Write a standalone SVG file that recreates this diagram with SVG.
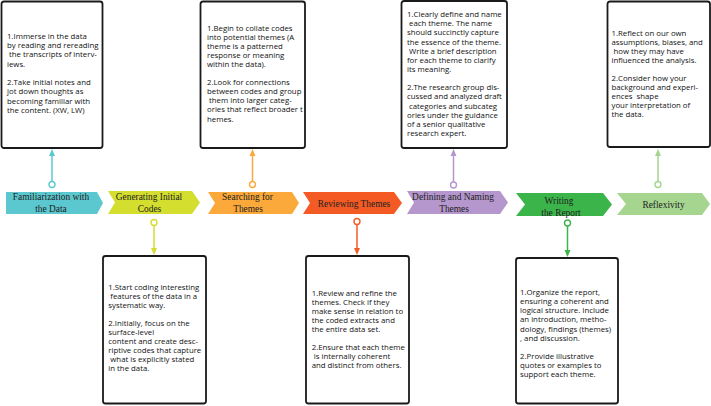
<svg xmlns="http://www.w3.org/2000/svg" width="711" height="406" viewBox="0 0 711 406">
<defs>
<style>
.box{fill:#fff;stroke:#1a1a1a;stroke-width:1.8}
.bt{font-family:"Open Sans","Noto Sans",sans-serif;font-size:7.8px;fill:#111}
.ct{font-family:"Liberation Serif","Times New Roman",serif;font-size:9.4px;fill:#222;text-anchor:middle}
.con{fill:none;stroke-width:1.5}
.dot{fill:#fff;stroke-width:1.4}
</style>
</defs>
<rect width="711" height="406" fill="#fff"/>

<g id="connectors">
  <g stroke="#5BC8CF" fill="#5BC8CF">
    <line class="con" x1="52" y1="181.5" x2="52" y2="155"/>
    <polygon points="52,149 49,156 55,156" stroke="none"/>
    <circle class="dot" cx="52" cy="184.5" r="3"/>
  </g>
  <g stroke="#FBA93B" fill="#FBA93B">
    <line class="con" x1="252.5" y1="181.5" x2="252.5" y2="155"/>
    <polygon points="252.5,149 249.5,156 255.5,156" stroke="none"/>
    <circle class="dot" cx="252.5" cy="184.5" r="3"/>
  </g>
  <g stroke="#B597CE" fill="#B597CE">
    <line class="con" x1="453.5" y1="182" x2="453.5" y2="155"/>
    <polygon points="453.5,149 450.5,156 456.5,156" stroke="none"/>
    <circle class="dot" cx="453.5" cy="185" r="3"/>
  </g>
  <g stroke="#A5D58F" fill="#A5D58F">
    <line class="con" x1="658" y1="181.5" x2="658" y2="155"/>
    <polygon points="658,149 655,156 661,156" stroke="none"/>
    <circle class="dot" cx="658" cy="184.5" r="3"/>
  </g>
  <g stroke="#D4DE2E" fill="#D4DE2E">
    <line class="con" x1="154" y1="225.5" x2="154" y2="249"/>
    <polygon points="154,255 151,248 157,248" stroke="none"/>
    <circle class="dot" cx="154" cy="222.5" r="3"/>
  </g>
  <g stroke="#F45B24" fill="#F45B24">
    <line class="con" x1="357" y1="224.5" x2="357" y2="249"/>
    <polygon points="357,255 354,248 360,248" stroke="none"/>
    <circle class="dot" cx="357" cy="221.5" r="3"/>
  </g>
  <g stroke="#3BB54A" fill="#3BB54A">
    <line class="con" x1="567.5" y1="226" x2="567.5" y2="251"/>
    <polygon points="567.5,257 564.5,250 570.5,250" stroke="none"/>
    <circle class="dot" cx="567.5" cy="223" r="3"/>
  </g>
</g>

<g id="step1">
  <polygon points="6,192 97,192 103,203 97,214 6,214" fill="#5BC8CF"/>
  <text class="ct"><tspan x="51" y="200">Familiarization with</tspan><tspan x="51" y="212.3">the Data</tspan></text>
</g>
<g id="step2">
  <polygon points="108,191 192,191 200,202.5 192,214 108,214 115,202.5" fill="#D4DE2E"/>
  <text class="ct"><tspan x="149" y="200">Generating Initial</tspan><tspan x="149.5" y="212.3">Codes</tspan></text>
</g>
<g id="step3">
  <polygon points="208,192 292,192 299,203 292,214 208,214 215,203" fill="#FBA93B"/>
  <text class="ct"><tspan x="247.5" y="200">Searching for</tspan><tspan x="248" y="212.3">Themes</tspan></text>
</g>
<g id="step4">
  <polygon points="303,192 394,192 402,203 394,214 303,214 310,203" fill="#F45B24"/>
  <text class="ct" x="354" y="207.3">Reviewing Themes</text>
</g>
<g id="step5">
  <polygon points="407,191 500,191 508,202.5 500,214 407,214 414,202.5" fill="#B597CE"/>
  <text class="ct"><tspan x="453" y="200">Defining and Naming</tspan><tspan x="454" y="212.3">Themes</tspan></text>
</g>
<g id="step6">
  <polygon points="516,193 603,193 612,204.5 603,216 516,216 525,204.5" fill="#3BB54A"/>
  <text class="ct"><tspan x="559" y="204">Writing</tspan><tspan x="561" y="215.5">the Report</tspan></text>
</g>
<g id="step7">
  <polygon points="617,193 702,193 710,204 702,215 617,215 626,204" fill="#A5D58F"/>
  <text class="ct" x="663.5" y="208.3">Reflexivity</text>
</g>

<g id="note1">
  <rect class="box" x="1.5" y="1.5" width="101" height="146.5" rx="2.5"/>
  <text class="bt" xml:space="preserve"><tspan x="7" y="38.8">1.Immerse in the data</tspan><tspan x="7" y="48.05">by reading and rereading</tspan><tspan x="7" y="57.3"> the transcripts of interv-</tspan><tspan x="7" y="66.55">iews.</tspan><tspan x="7" y="85.05">2.Take initial notes and</tspan><tspan x="7" y="94.3">jot down thoughts as</tspan><tspan x="7" y="103.55">becoming familiar with</tspan><tspan x="7" y="112.8">the content. (XW, LW)</tspan></text>
</g>
<g id="note3">
  <rect class="box" x="200.5" y="1.5" width="104.5" height="146.5" rx="2.5"/>
  <text class="bt" xml:space="preserve"><tspan x="207" y="30.5">1.Begin to collate codes</tspan><tspan x="207" y="39.6">into potential themes (A</tspan><tspan x="207" y="48.7">theme is a patterned</tspan><tspan x="207" y="57.8">response or meaning</tspan><tspan x="207" y="66.9">within the data).</tspan><tspan x="207" y="85.1">2.Look for connections</tspan><tspan x="207" y="94.2">between codes and group</tspan><tspan x="207" y="103.3"> them into larger categ-</tspan><tspan x="207" y="112.4">ories that reflect broader t</tspan><tspan x="207" y="121.5">hemes.</tspan></text>
</g>
<g id="note5">
  <rect class="box" x="401.5" y="1" width="105.5" height="147" rx="2.5"/>
  <text class="bt" xml:space="preserve"><tspan x="407" y="17.1">1.Clearly define and name</tspan><tspan x="407" y="26.25"> each theme. The name</tspan><tspan x="407" y="35.4">should succinctly capture</tspan><tspan x="407" y="44.55">the essence of the theme.</tspan><tspan x="407" y="53.7"> Write a brief description</tspan><tspan x="407" y="62.85">for each theme to clarify</tspan><tspan x="407" y="72">its meaning.</tspan><tspan x="407" y="90.3">2.The research group dis-</tspan><tspan x="407" y="99.45">cussed and analyzed draft</tspan><tspan x="407" y="108.6"> categories and subcateg</tspan><tspan x="407" y="117.75">ories under the guidance</tspan><tspan x="407" y="126.9">of a senior qualitative</tspan><tspan x="407" y="136.05">research expert.</tspan></text>
</g>
<g id="note7">
  <rect class="box" x="607.5" y="1.5" width="102.5" height="145.5" rx="2.5"/>
  <text class="bt" xml:space="preserve"><tspan x="611.5" y="36.1">1.Reflect on our own</tspan><tspan x="611.5" y="45.1">assumptions, biases, and</tspan><tspan x="611.5" y="54.1"> how they may have</tspan><tspan x="611.5" y="63.1">influenced the analysis.</tspan><tspan x="611.5" y="81.1">2.Consider how your</tspan><tspan x="611.5" y="90.1">background and experi-</tspan><tspan x="611.5" y="99.1">ences  shape</tspan><tspan x="611.5" y="108.1">your interpretation of</tspan><tspan x="611.5" y="117.1">the data.</tspan></text>
</g>
<g id="note2">
  <rect class="box" x="103" y="256" width="103" height="147.5" rx="2.5"/>
  <text class="bt" xml:space="preserve"><tspan x="108.3" y="289.5">1.Start coding interesting</tspan><tspan x="108.3" y="298.55"> features of the data in a</tspan><tspan x="108.3" y="307.6">systematic way.</tspan><tspan x="108.3" y="325.7">2.Initially, focus on the</tspan><tspan x="108.3" y="334.75">surface-level</tspan><tspan x="108.3" y="343.8">content and create desc-</tspan><tspan x="108.3" y="352.85">riptive codes that capture</tspan><tspan x="108.3" y="361.9"> what is explicitly stated</tspan><tspan x="108.3" y="370.95">in the data.</tspan></text>
</g>
<g id="note4">
  <rect class="box" x="306" y="256" width="103" height="147.5" rx="2.5"/>
  <text class="bt" xml:space="preserve"><tspan x="311.7" y="295.5">1.Review and refine the</tspan><tspan x="311.7" y="304.5">themes. Check if they</tspan><tspan x="311.7" y="313.5">make sense in relation to</tspan><tspan x="311.7" y="322.5">the coded extracts and</tspan><tspan x="311.7" y="331.5">the entire data set.</tspan><tspan x="311.7" y="349.5">2.Ensure that each theme</tspan><tspan x="311.7" y="358.5"> is internally coherent</tspan><tspan x="311.7" y="367.5">and distinct from others.</tspan></text>
</g>
<g id="note6">
  <rect class="box" x="516" y="258" width="102" height="145.5" rx="2.5"/>
  <text class="bt" xml:space="preserve"><tspan x="520" y="295.1">1.Organize the report,</tspan><tspan x="520" y="304.2">ensuring a coherent and</tspan><tspan x="520" y="313.3">logical structure. Include</tspan><tspan x="520" y="322.4">an introduction, metho-</tspan><tspan x="520" y="331.5">dology, findings (themes)</tspan><tspan x="520" y="340.6">, and discussion.</tspan><tspan x="520" y="358.8">2.Provide illustrative</tspan><tspan x="520" y="367.9">quotes or examples to</tspan><tspan x="520" y="377">support each theme.</tspan></text>
</g>
</svg>
